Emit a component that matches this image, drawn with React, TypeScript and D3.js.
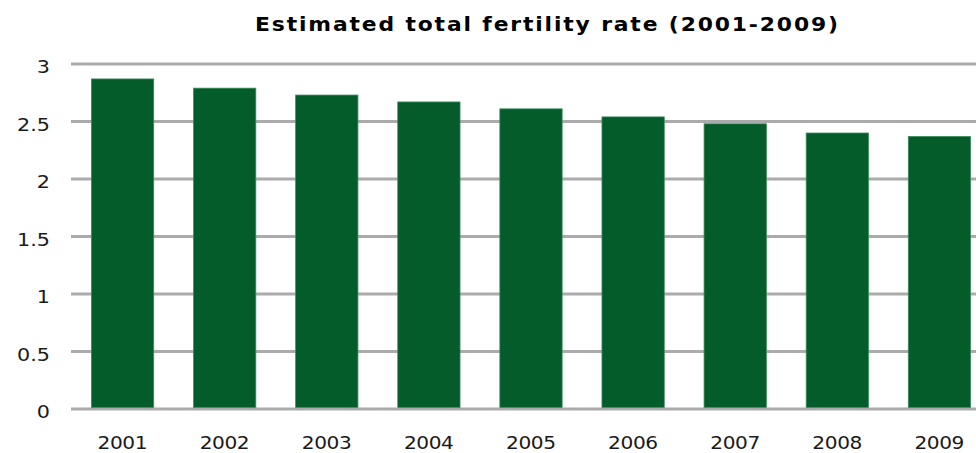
import React from 'react'
import * as d3 from 'd3'

// chart values
const years = ['2001', '2002', '2003', '2004', '2005', '2006', '2007', '2008', '2009']
const fertilityRate = [2.87, 2.79, 2.73, 2.67, 2.61, 2.54, 2.48, 2.4, 2.37]
const yTicks = [0, 0.5, 1, 1.5, 2, 2.5, 3]

const width = 976
const height = 453
const margin = { top: 64, left: 71, bottom: 44 }
const plotRight = 991 // plot runs past the window edge, last bar is cut
const font = "'DejaVu Sans', Verdana, sans-serif"
const stretch = 1.15 // original text looks horizontally stretched

// text squeezed into a known box, drawn a bit wider than the font
const WideText = ({ x, y, w, anchor = 'middle', children, ...rest }: any) => (
    <g transform={`translate(${x},${y}) scale(${stretch},1)`}>
        <text
            textAnchor={anchor}
            textLength={w ? w / stretch : undefined}
            lengthAdjust="spacing"
            fontFamily={font}
            {...rest}
        >
            {children}
        </text>
    </g>
)

const App: React.FC = () => {
    const x = d3
        .scaleBand<string>()
        .domain(years)
        .range([margin.left, plotRight])
        .paddingInner(0.39)
        .paddingOuter(0.2)

    const y = d3
        .scaleLinear()
        .domain([0, 3])
        .range([height - margin.bottom, margin.top])

    return (
        <svg
            width={width}
            height={height}
            style={{ position: 'absolute', left: 0, top: 0, background: '#fff' }}
        >
            <WideText x={546.5} y={31} w={583} fontWeight="bold" fontSize={19} fill="#000">
                Estimated total fertility rate (2001-2009)
            </WideText>

            {/* gridlines */}
            {yTicks.map((t) => (
                <line
                    key={t}
                    x1={margin.left}
                    x2={width}
                    y1={y(t)}
                    y2={y(t)}
                    stroke="#ababab"
                    strokeWidth={3}
                />
            ))}

            {/* y labels */}
            {yTicks.map((t) => {
                const label = String(t)
                const multi = label.length > 1
                return (
                    <WideText
                        key={'l' + t}
                        x={multi ? 33.5 : 50}
                        y={y(t) + 9}
                        w={multi ? 33 : undefined}
                        anchor={multi ? 'middle' : 'end'}
                        fontSize={18}
                        fill="#1a1a1a"
                    >
                        {label}
                    </WideText>
                )
            })}

            {/* bars */}
            {years.map((yr, i) => (
                <rect
                    key={yr}
                    x={x(yr)}
                    y={y(fertilityRate[i])}
                    width={x.bandwidth()}
                    height={y(0) - y(fertilityRate[i]) - 1.5}
                    fill="#035c29"
                    stroke="#3f8a5e"
                    strokeWidth={0.8}
                />
            ))}

            {/* x labels */}
            {years.map((yr) => (
                <WideText
                    key={'x' + yr}
                    x={(x(yr) ?? 0) + x.bandwidth() / 2}
                    y={448.5}
                    w={50}
                    fontSize={17.5}
                    fill="#1a1a1a"
                >
                    {yr}
                </WideText>
            ))}
        </svg>
    )
}

export default App
